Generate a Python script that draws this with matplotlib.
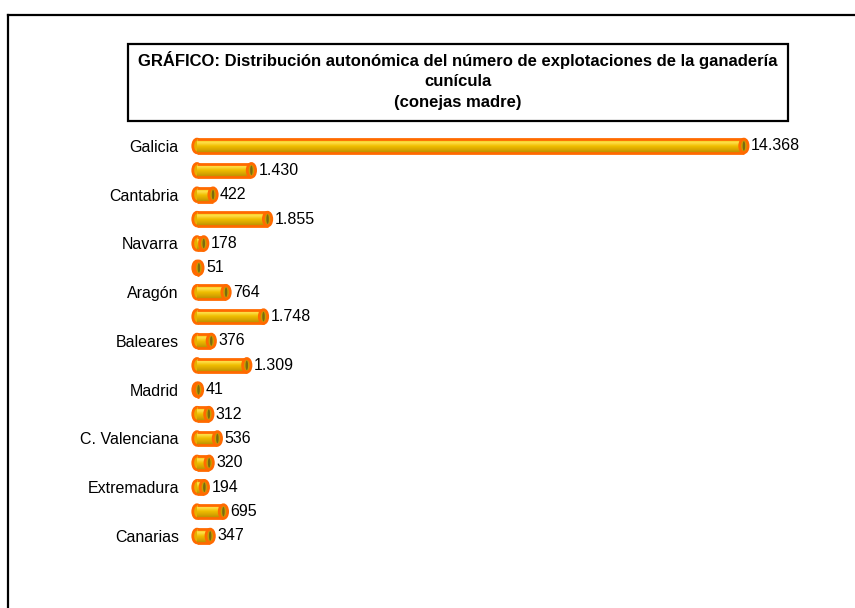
import numpy as np
import matplotlib.pyplot as plt
from matplotlib.patches import Rectangle, Ellipse
from matplotlib.lines import Line2D
from matplotlib.colors import LinearSegmentedColormap

# datos: explotaciones de conejas madre por comunidad autonoma
comunidades = ["Galicia", "P. de Asturias", "Cantabria", "País Vasco", "Navarra",
               "La Rioja", "Aragón", "Cataluña", "Baleares", "Castilla y León",
               "Madrid", "Castilla-La Mancha", "C. Valenciana", "R. de Murcia",
               "Extremadura", "Andalucía", "Canarias"]
explotaciones = [14368, 1430, 422, 1855, 178, 51, 764, 1748, 376, 1309,
                 41, 312, 536, 320, 194, 695, 347]
# solo se ve una etiqueta de cada dos en el eje
etiquetas = [c if i % 2 == 0 else "" for i, c in enumerate(comunidades)]
textos = [f"{v:,}".replace(",", ".") for v in explotaciones]

plt.rcParams['font.family'] = ['Liberation Sans', 'DejaVu Sans']

fig = plt.figure(figsize=(8.55, 6.08), dpi=100)
ax = fig.add_axes([0.2237, 0.0984, 0.719, 0.6816])

naranja = "#FF6A00"
degradado = LinearSegmentedColormap.from_list(
    "cil", ["#EDBE00", "#FFE04A", "#F0BE00", "#D8A600", "#B88E00"])
grad = np.linspace(0, 1, 64).reshape(-1, 1)

alto = 0.56
tapa = 220  # ancho de la tapa del cilindro en unidades del eje x

for i, v in enumerate(explotaciones):
    # tapa izquierda
    ax.add_patch(Ellipse((0, i), tapa, alto, facecolor="#E8B000",
                         edgecolor=naranja, lw=2, zorder=2))
    rect = Rectangle((0, i - alto / 2), v, alto, facecolor="none",
                     edgecolor="none", zorder=3)
    ax.add_patch(rect)
    im = ax.imshow(grad, extent=[0, v, i + alto / 2, i - alto / 2],
                   aspect="auto", cmap=degradado, origin="upper", zorder=3)
    im.set_clip_path(rect)
    ax.plot([0, v], [i - alto / 2, i - alto / 2], color=naranja, lw=2, zorder=4,
            solid_capstyle="butt")
    ax.plot([0, v], [i + alto / 2, i + alto / 2], color=naranja, lw=2, zorder=4,
            solid_capstyle="butt")
    # tapa derecha
    ax.add_patch(Ellipse((v, i), tapa, alto, facecolor="#C9A000",
                         edgecolor=naranja, lw=2, zorder=5))
    ax.add_patch(Ellipse((v, i), tapa * 0.3, alto * 0.7, facecolor="#7A6A10",
                         edgecolor="none", zorder=6))
    ax.annotate(textos[i], (v + tapa / 2, i), xytext=(2, 0),
                textcoords="offset points", va="center", ha="left",
                fontsize=11.5, zorder=7)

ax.set_xlim(-150, 16000)
ax.set_ylim(16.5, -0.5)
ax.set_yticks(range(len(comunidades)))
ax.set_yticklabels(etiquetas, fontsize=11.5)
ax.tick_params(axis="y", length=0, pad=9)
ax.set_xticks([])
for s in ax.spines.values():
    s.set_visible(False)

# marco del grafico (solo arriba e izquierda visibles)
fig.add_artist(Line2D([8 / 855, 1], [1 - 15 / 608, 1 - 15 / 608],
                      color="black", lw=1.6))
fig.add_artist(Line2D([8 / 855, 8 / 855], [0, 1 - 15 / 608],
                      color="black", lw=1.6))

# caja del titulo
fig.add_artist(Rectangle((128 / 855, 1 - 121 / 608), 660 / 855, 77 / 608,
                         transform=fig.transFigure, facecolor="white",
                         edgecolor="black", lw=1.6))
titulo = ["GRÁFICO: Distribución autonómica del número de explotaciones de la ganadería",
          "cunícula", "(conejas madre)"]
for linea, yp in zip(titulo, [60, 81, 102]):
    fig.text(458 / 855, 1 - yp / 608, linea, ha="center", va="center",
             fontsize=12, fontweight="bold")

fig.savefig("out.png", dpi=100)
